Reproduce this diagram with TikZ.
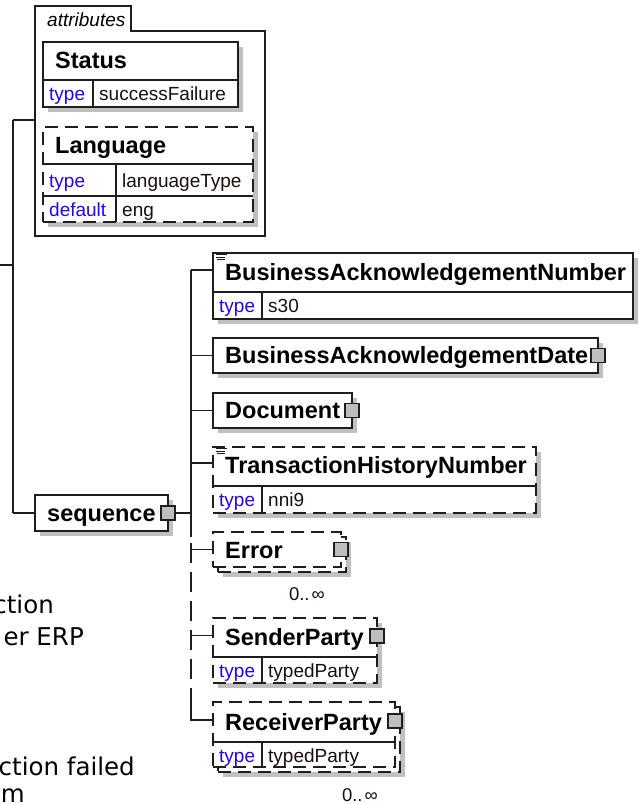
\documentclass[tikz,border=0pt]{standalone}
\usepackage{fontspec}
\setmainfont{Liberation Sans}
\newfontfamily\sidefont{DejaVu Sans}
\usetikzlibrary{calc}
\definecolor{linec}{RGB}{30,30,30}
\definecolor{shadowc}{RGB}{192,192,192}
\definecolor{sqc}{RGB}{190,190,190}
\definecolor{keyc}{RGB}{40,0,240}
\definecolor{valc}{RGB}{25,15,10}
\tikzset{
  ln/.style={draw=linec,line width=1.4pt},
  dsh/.style={dash pattern=on 13pt off 7pt},
  spdsh/.style={dash pattern=on 20pt off 9pt},
  ebox/.style={ln,fill=white,rectangle,inner sep=0pt,outer sep=0pt,anchor=north west},
  shd/.style={fill=shadowc},
  sqicon/.style={ln,fill=sqc,rectangle,minimum width=14pt,minimum height=14pt,inner sep=0pt,outer sep=0pt},
  ename/.style={font=\fontsize{23.5}{28}\selectfont\bfseries,text=black,inner sep=0pt,anchor=base west},
  keytxt/.style={font=\fontsize{19}{23}\selectfont,text=keyc,inner sep=0pt,anchor=base west},
  valtxt/.style={font=\fontsize{19}{23}\selectfont,text=valc,inner sep=0pt,anchor=base west},
  occtxt/.style={font=\fontsize{18.5}{22}\selectfont,text=valc,inner sep=0pt,anchor=base east},
  sidetxt/.style={font=\sidefont\fontsize{24.5}{29}\selectfont,text=black,inner sep=0pt,anchor=base east},
  conn/.style={ln},
  docicon/.style={draw=linec,line width=0.9pt},
}
\begin{document}
\begin{tikzpicture}[x=1pt,y=-1pt]
\useasboundingbox (0,0) rectangle (639,804);
\clip (0,0) rectangle (639,804);
\fill[white] (0,0) rectangle (639,804);

% shadows
\fill[shd] (48,47) rectangle (243,112);
\fill[shd] (48,132) rectangle (258,227);
\fill[shd] (40,500) rectangle (173,536);
\fill[shd] (218,258) rectangle (638,324);
\fill[shd] (218,343) rectangle (603,378);
\fill[shd] (218,398) rectangle (357,433);
\fill[shd] (218,452) rectangle (541,518);
\fill[shd] (223,542) rectangle (351,577);
\fill[shd] (218,623) rectangle (382,688);
\fill[shd] (223,712) rectangle (405,777);

% attributes container
\draw[ln] (35,236) -- (35,6) -- (131,6) -- (131,31) -- (265,31) -- (265,236) -- cycle;
\node[font=\fontsize{19}{23}\selectfont\itshape,inner sep=0pt,anchor=base west] (attrlbl) at (47,26.5) {attributes};
\coordinate (attrin) at (35,120);

% Status
\node[ebox,minimum width=195pt,minimum height=65pt] (status) at (43,42) {};
\draw[ln] (43,80) -- (238,80) (93,80) -- (93,107);
\node[ename] (statusname) at (55,68.5) {Status};
\node[keytxt] (statuskey) at (49,100.5) {type};
\node[valtxt] (statusval) at (99,100.5) {successFailure};

% Language
\node[ebox,dsh,minimum width=210pt,minimum height=95pt] (lang) at (43,127) {};
\draw[ln] (43,164) -- (253,164) (43,196) -- (253,196) (116,164) -- (116,222);
\node[ename] (langname) at (55,153) {Language};
\node[keytxt] (langkey1) at (49,187) {type};
\node[valtxt] (langval1) at (122,187) {languageType};
\node[keytxt] (langkey2) at (49,216) {default};
\node[valtxt] (langval2) at (122,216) {eng};

% sequence
\node[ebox,minimum width=133pt,minimum height=36pt] (seq) at (35,495) {};
\node[ename] (seqname) at (47,521.5) {sequence};
\node[sqicon] (seqsq) at (seq.east) {};

% BusinessAcknowledgementNumber
\node[ebox,minimum width=420pt,minimum height=66pt] (ban) at (213,253) {};
\draw[ln] (213,292) -- (633,292) (262,292) -- (262,319);
\draw[docicon] (215.5,254.8) -- (227,254.8) (215.5,257) -- (225,257) (217,259.2) -- (225,259.2);
\node[ename] (banname) at (225,280.5) {BusinessAcknowledgementNumber};
\node[keytxt] (bankey) at (219,312.5) {type};
\node[valtxt] (banval) at (268,312.5) {s30};

% BusinessAcknowledgementDate
\node[ebox,minimum width=385pt,minimum height=35pt] (bad) at (213,338) {};
\node[ename] (badname) at (225,363.5) {BusinessAcknowledgementDate};
\node[sqicon] (badsq) at (bad.east) {};

% Document
\node[ebox,minimum width=139pt,minimum height=35pt] (doc) at (213,393) {};
\node[ename] (docname) at (225,418.5) {Document};
\node[sqicon] (docsq) at (doc.east) {};

% TransactionHistoryNumber
\node[ebox,dsh,minimum width=323pt,minimum height=66pt] (thn) at (213,447) {};
\draw[ln] (213,486) -- (536,486) (262,486) -- (262,513);
\draw[docicon] (215.5,448.8) -- (227,448.8) (215.5,451) -- (225,451) (217,453.2) -- (225,453.2);
\node[ename] (thnname) at (225,473.5) {TransactionHistoryNumber};
\node[keytxt] (thnkey) at (219,506.5) {type};
\node[valtxt] (thnval) at (268,506.5) {nni9};

% Error
\node[ebox,dsh,minimum width=128pt,minimum height=35pt] (errback) at (218,537) {};
\node[ebox,dsh,minimum width=128pt,minimum height=35pt] (err) at (213,532) {};
\node[ename] (errname) at (225,558) {Error};
\node[sqicon] (errsq) at (err.east) {};
\node[occtxt] (errocc) at (325,600) {0..\kern2pt∞};

% SenderParty
\node[ebox,dsh,minimum width=164pt,minimum height=65pt] (snd) at (213,618) {};
\draw[ln] (213,657) -- (377,657) (262,657) -- (262,683);
\node[ename] (sndname) at (225,645) {SenderParty};
\node[sqicon] (sndsq) at ($(snd.north east)+(0,18)$) {};
\node[keytxt] (sndkey) at (219,677) {type};
\node[valtxt] (sndval) at (268,677) {typedParty};

% ReceiverParty
\node[ebox,dsh,minimum width=182pt,minimum height=65pt] (rcvback) at (218,707) {};
\node[ebox,dsh,minimum width=182pt,minimum height=65pt] (rcv) at (213,702) {};
\draw[ln] (213,742) -- (395,742) (262,742) -- (262,767);
\node[ename] (rcvname) at (225,730) {ReceiverParty};
\node[sqicon] (rcvsq) at ($(rcv.north east)+(0,19)$) {};
\node[keytxt] (rcvkey) at (219,762) {type};
\node[valtxt] (rcvval) at (268,762) {typedParty};
\node[occtxt] (rcvocc) at (378,801) {0..\kern2pt∞};

% root connectors
\coordinate (root) at (0,265);
\coordinate (jroot) at (13,265);
\coordinate (jattr) at (13,120);
\coordinate (jseq) at (13,513);
\draw[conn] (root) -- (jroot);
\draw[conn] (jattr) -- (jseq);
\draw[conn] (jattr) -- (attrin);
\draw[conn] (jseq) -- (seq.west);

% sequence spine
\coordinate (sptop) at (191,270);
\coordinate (spsolid) at (191,537);
\coordinate (spend) at (191,708);
\draw[conn] (seqsq.east) -- (seqsq.east -| sptop);
\draw[conn] (sptop) -- (spsolid);
\draw[conn,spdsh] (spsolid) ++(0,6) -- (spend);
\draw[conn] (spend) ++(0,-3) -- (spend);

\coordinate (banin) at ($(ban.north west)+(0,17)$);
\coordinate (thnin) at ($(thn.north west)+(0,16)$);
\coordinate (sndin) at ($(snd.north west)+(0,17.5)$);
\coordinate (rcvin) at ($(rcv.north west)+(0,18)$);
\draw[conn] (banin -| sptop) -- (banin);
\draw[conn] (bad.west -| sptop) -- (bad.west);
\draw[conn] (doc.west -| sptop) -- (doc.west);
\draw[conn] (thnin -| sptop) -- (thnin);
\draw[conn] (err.west -| sptop) -- (err.west);
\draw[conn] (sndin -| sptop) -- (sndin);
\draw[conn] (spend) -- (rcvin -| sptop) -- (rcvin);

% side text (cut off at left edge, as in the reference)
\node[sidetxt] (side1) at (54,613) {ction};
\node[sidetxt] (side2) at (84,645) {er ERP};
\node[sidetxt] (side3) at (135,775) {ction failed};
\node[sidetxt] (side4) at (25,802) {m};
\end{tikzpicture}
\end{document}
